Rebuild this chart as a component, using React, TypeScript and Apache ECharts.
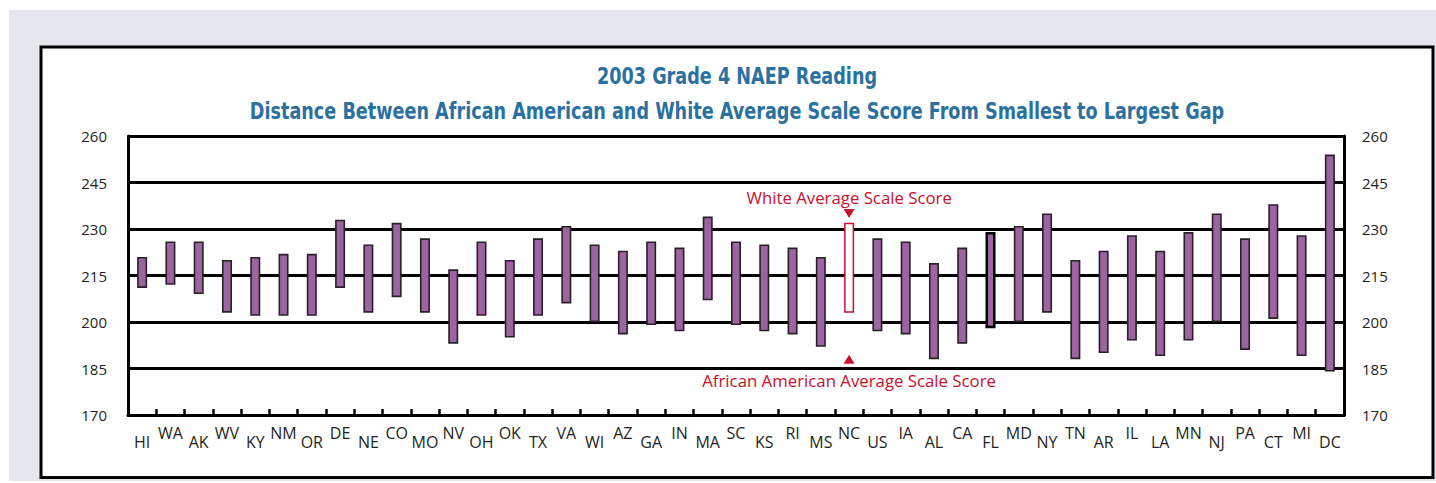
import React, { useEffect, useRef } from "react";
import * as echarts from "echarts";

const categories = ["HI","WA","AK","WV","KY","NM","OR","DE","NE","CO","MO","NV","OH","OK","TX","VA","WI","AZ","GA","IN","MA","SC","KS","RI","MS","NC","US","IA","AL","CA","FL","MD","NY","TN","AR","IL","LA","MN","NJ","PA","CT","MI","DC"];
const whiteScores = [221,226,226,220,221,222,222,233,225,232,227,217,226,220,227,231,225,223,226,224,234,226,225,224,221,232,227,226,219,224,229,231,235,220,223,228,223,229,235,227,238,228,254];
const africanAmericanScores = [211,212,209,203,202,202,202,211,203,208,203,193,202,195,202,206,200,196,199,197,207,199,197,196,192,203,197,196,188,193,198,200,203,188,190,194,189,194,200,191,201,189,184];
const yTickValues = [170,185,200,215,230,245,260];

const titleLines = [
  "2003 Grade 4 NAEP Reading",
  "Distance Between African American and White Average Scale Score From Smallest to Largest Gap",
];
const annotationTop = "White Average Scale Score";
const annotationBottom = "African American Average Scale Score";

const highlighted = "NC";
const outlined = "FL";

const AXIS_MIN = yTickValues[0];
const AXIS_MAX = yTickValues[yTickValues.length - 1];
const AXIS_STEP = yTickValues[1] - yTickValues[0];

const RED = "#c8102e";
const PURPLE = "#9b669f";
const BLUE = "#2a70a0";
const LABEL_FONT = '"Open Sans", "Noto Sans", sans-serif';

export default function App() {
  const ref = useRef<HTMLDivElement>(null);
  useEffect(() => {
    if (!ref.current) return;
    const chart = echarts.init(ref.current, null, { renderer: "svg" });
    const ncIndex = categories.indexOf(highlighted);

    const base = africanAmericanScores.map((v) => v - AXIS_MIN);
    const diff = whiteScores.map((w, i) => {
      const cat = categories[i];
      let itemStyle: any = { color: PURPLE, borderColor: "#2a1f2b", borderWidth: 1.6 };
      if (cat === highlighted) itemStyle = { color: "#ffffff", borderColor: RED, borderWidth: 1.5 };
      if (cat === outlined) itemStyle = { color: PURPLE, borderColor: "#000", borderWidth: 2.5 };
      return { value: w - africanAmericanScores[i], itemStyle };
    });

    const yAxisBase = (pos: "left" | "right", margin: number, split: boolean) => ({
      type: "value",
      position: pos,
      min: 0,
      max: AXIS_MAX - AXIS_MIN,
      interval: AXIS_STEP,
      axisLine: { show: true, lineStyle: { color: "#000", width: 3 } },
      axisTick: { show: false },
      axisLabel: {
        margin,
        fontSize: 15,
        color: "#231f20",
        fontFamily: LABEL_FONT,
        formatter: (v: number) => String(v + AXIS_MIN),
      },
      splitLine: { show: split, lineStyle: { color: "#000", width: 3 } },
    });

    const titleStyle = (text: string) => ({
      text,
      fill: BLUE,
      font: 'bold 23px "DejaVu Sans", sans-serif',
      align: "center",
      verticalAlign: "middle",
    });

    chart.setOption({
      animation: false,
      graphic: [
        { type: "rect", z: -20, silent: true, shape: { x: 9, y: 10, width: 1427, height: 471 }, style: { fill: "#e6e6ef" } },
        { type: "rect", z: -10, silent: true, shape: { x: 41, y: 47, width: 1392, height: 430.5 }, style: { fill: "#ffffff", stroke: "#000", lineWidth: 3 } },
        { type: "text", z: 5, silent: true, x: 737, y: 76, scaleX: 0.767, style: titleStyle(titleLines[0]) },
        { type: "text", z: 5, silent: true, x: 737, y: 111, scaleX: 0.767, style: titleStyle(titleLines[1]) },
      ],
      grid: { left: 128, right: 92, top: 136, bottom: 68, containLabel: false },
      xAxis: {
        type: "category",
        data: categories,
        boundaryGap: true,
        axisLine: { show: true, lineStyle: { color: "#000", width: 3 } },
        axisTick: { show: true, inside: true, length: 6, lineStyle: { color: "#000", width: 2.5 } },
        axisLabel: {
          interval: 0,
          margin: 10,
          formatter: (v: string, i: number) => (i % 2 === 0 ? `{lo|${v}}` : `{hi|${v}}`),
          rich: {
            lo: { lineHeight: 33, fontSize: 16, color: "#231f20", fontFamily: LABEL_FONT },
            hi: { lineHeight: 16, fontSize: 16, color: "#231f20", fontFamily: LABEL_FONT },
          },
        },
        splitLine: { show: false },
      },
      yAxis: [yAxisBase("left", 21, true), yAxisBase("right", 18, false)],
      series: [
        {
          type: "bar",
          stack: "gap",
          data: base,
          barWidth: 10,
          silent: true,
          itemStyle: { color: "transparent", borderWidth: 0 },
        },
        {
          type: "bar",
          stack: "gap",
          data: diff,
          barWidth: 10,
          silent: true,
        },
        {
          type: "scatter",
          data: [],
          silent: true,
          markPoint: {
            silent: true,
            data: [
              {
                coord: [ncIndex, 235 - AXIS_MIN],
                symbol: "triangle",
                symbolRotate: 180,
                symbolSize: [11, 9],
                itemStyle: { color: RED },
                label: { show: false },
              },
              {
                coord: [ncIndex, 188 - AXIS_MIN],
                symbol: "triangle",
                symbolSize: [11, 9],
                itemStyle: { color: RED },
                label: { show: false },
              },
              {
                coord: [ncIndex, 240.3 - AXIS_MIN],
                symbol: "rect",
                symbolSize: 1,
                itemStyle: { color: "transparent" },
                label: { show: true, position: "inside", formatter: annotationTop, color: RED, fontSize: 16.8, fontFamily: LABEL_FONT },
              },
              {
                coord: [ncIndex, 181 - AXIS_MIN],
                symbol: "rect",
                symbolSize: 1,
                itemStyle: { color: "transparent" },
                label: { show: true, position: "inside", formatter: annotationBottom, color: RED, fontSize: 16.8, fontFamily: LABEL_FONT },
              },
            ],
          },
        },
      ],
    });
    return () => chart.dispose();
  }, []);
  return <div ref={ref} style={{ position: "absolute", left: 0, top: 0, width: 1436, height: 483 }} />;
}
